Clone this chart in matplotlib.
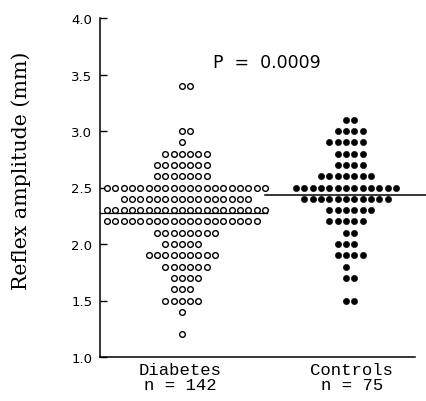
#!/usr/bin/env python3

# Dot plot of reflex amplitude, diabetes vs controls

import numpy as np
import matplotlib
matplotlib.use('Agg')
import matplotlib.pyplot as plt

# Diabetes group: amplitude level (mm) and number of subjects on each level
dia_levels = [3.4, 3.0, 2.9, 2.8, 2.7, 2.6, 2.5, 2.4, 2.3, 2.2,
              2.1, 2.0, 1.9, 1.8, 1.7, 1.6, 1.5, 1.4, 1.2]
dia_counts = [2, 2, 1, 6, 7, 7, 20, 16, 20, 19,
              8, 5, 9, 6, 4, 3, 5, 1, 1]
dia_mean = 2.27

# Control group
ctl_levels = [3.1, 3.0, 2.9, 2.8, 2.7, 2.6, 2.5, 2.4,
              2.3, 2.2, 2.1, 2.0, 1.9, 1.8, 1.7, 1.5]
ctl_counts = [2, 4, 5, 4, 4, 7, 13, 11,
              6, 5, 2, 3, 4, 1, 2, 2]
ctl_mean = 2.435

group_names = ['Diabetes', 'Controls']
group_n = ['n = 142', 'n = 75']
p_text = 'P  =  0.0009'

# horizontal gap between neighbouring dots (data units)
step = 0.0507


def spread(levels, counts, center):
    xs, ys = [], []
    for lev, n in zip(levels, counts):
        off = np.arange(n) - (n + 1) // 2 + 0.5
        xs.extend(center + step * off)
        ys.extend([lev] * n)
    return xs, ys


#------------------------------------------------------------------------------
# Figure
#------------------------------------------------------------------------------
fig = plt.figure(figsize=(4.26, 4.02), dpi=100)
ax = fig.add_axes([100 / 426, 44 / 402, 315 / 426, 339 / 402])

x_d, y_d = spread(dia_levels, dia_counts, 1.0)
x_c, y_c = spread(ctl_levels, ctl_counts, 2.0)

ax.plot(x_d, y_d, 'o', markersize=4.1, markerfacecolor='white',
        markeredgecolor='black', markeredgewidth=1.0, zorder=3)
ax.plot(x_c, y_c, 'o', markersize=4.5, markerfacecolor='black',
        markeredgecolor='black', markeredgewidth=0.4, zorder=3)

# Mean lines
ax.plot([0.476, 1.493], [dia_mean, dia_mean], color='black', lw=0.9,
        zorder=2, clip_on=False)
ax.plot([1.481, 2.462], [ctl_mean, ctl_mean], color='black', lw=1.1,
        zorder=2, clip_on=False)

ax.text(1.164, 3.61, p_text, fontsize=12.5, family='DejaVu Sans',
        ha='left', va='center')

# Axes
ax.set_xlim(0.476, 2.395)
ax.set_ylim(1.0, 4.0)
ax.set_yticks(np.arange(1.0, 4.01, 0.5))
ax.set_yticklabels(['%.1f' % v for v in np.arange(1.0, 4.01, 0.5)])
ax.tick_params(axis='y', direction='in', length=5, width=1, pad=5.5,
               labelsize=9.5)
ax.set_xticks([])
ax.spines['top'].set_visible(False)
ax.spines['right'].set_visible(False)
ax.spines['left'].set_linewidth(1.1)
ax.spines['bottom'].set_linewidth(1.1)

# Axis name
ax.set_ylabel('Reflex amplitude (mm)', family='DejaVu Serif', fontsize=14.8,
              va='center')
ax.yaxis.set_label_coords(-0.251, 0.553)

# Group labels under the axis
for xc, name, n in zip([0.963, 2.011], group_names, group_n):
    ax.text(xc, -0.038, name, transform=ax.get_xaxis_transform(),
            family='Liberation Mono', fontsize=12.4,
            ha='center', va='center')
    ax.text(xc, -0.082, n, transform=ax.get_xaxis_transform(),
            family='Liberation Mono', fontsize=12.4,
            ha='center', va='center')

plt.savefig('out.png', dpi=100)
